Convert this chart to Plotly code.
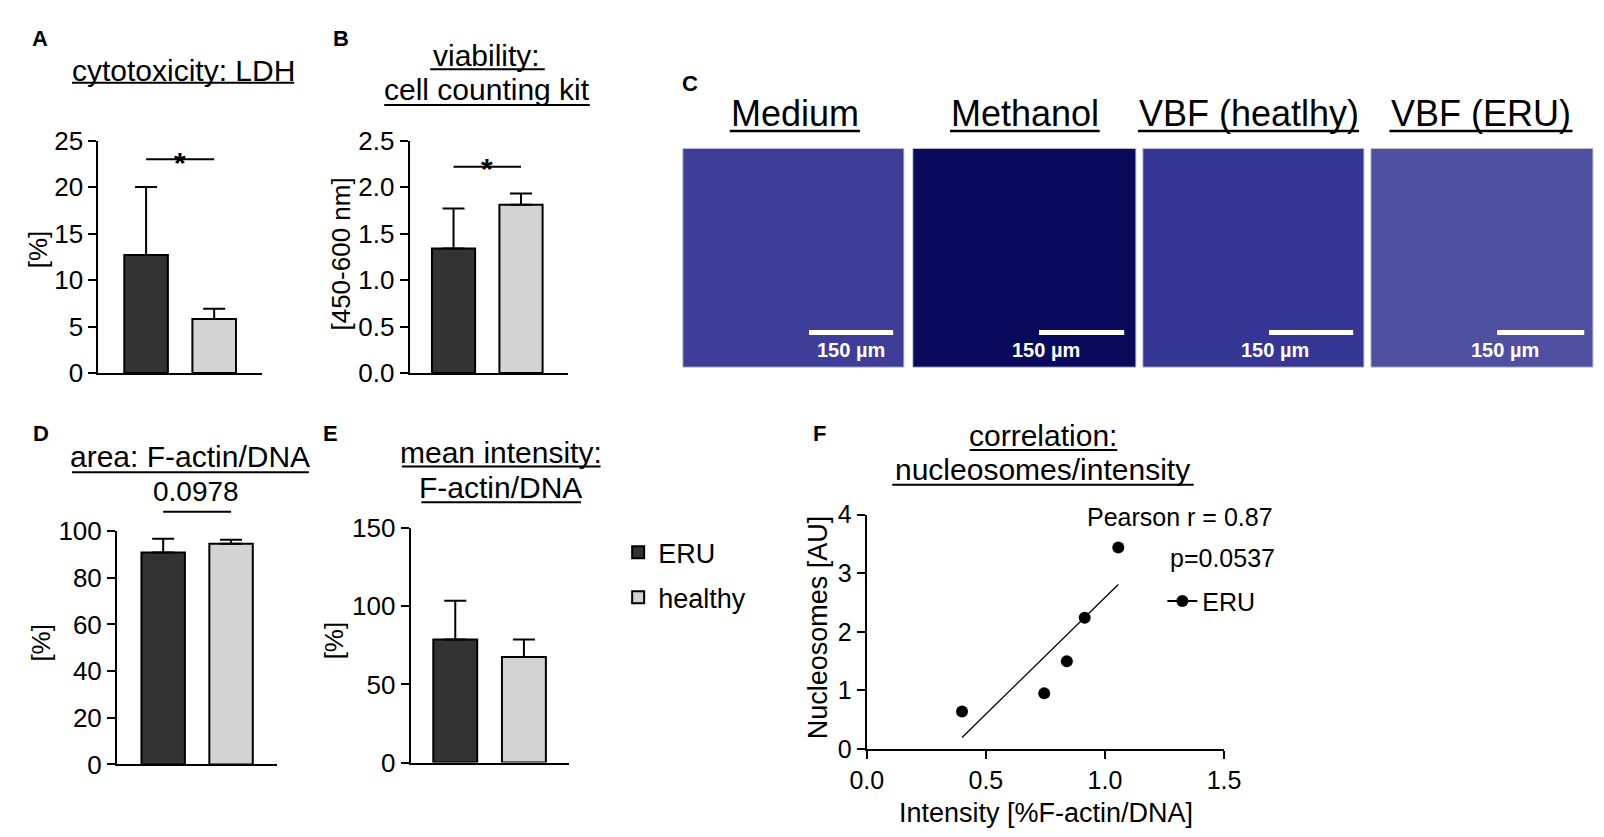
import numpy as np
import plotly.graph_objects as go

# ---------- data ----------
groups = ["ERU", "healthy"]

ldh_mean = [12.7, 5.8]          # A: cytotoxicity LDH [%]
ldh_sd = [7.3, 1.1]

cck_mean = [1.34, 1.81]         # B: viability [450-600 nm]
cck_sd = [0.43, 0.12]

area_mean = [90.8, 94.6]        # D: area F-actin/DNA [%]
area_sd = [5.9, 1.7]

int_mean = [78.8, 67.5]         # E: mean intensity F-actin/DNA [%]
int_sd = [24.8, 11.3]

# F: correlation nucleosomes vs intensity (ERU)
corr_intensity = [0.40, 0.745, 0.84, 0.915, 1.056]
corr_nucleosomes = [0.64, 0.95, 1.50, 2.24, 3.44]

image_labels = ["Medium", "Methanol", "VBF (heatlhy)", "VBF (ERU)"]
scale_label = "150 µm"

# ---------- helpers (positions given in pixels of the 1604x837 page) ----------
W, H = 1604, 837
FONT = "Arial, Liberation Sans, sans-serif"
BAR_COLORS = ["#333333", "#d3d3d3"]


def fx(p):
    return p / W


def fy(p):
    return 1 - p / H


fig = go.Figure()
shapes = []
annotations = []


def text(s, x, y, size, **kw):
    annotations.append(dict(text=s, x=fx(x), y=fy(y), xref="paper", yref="paper",
                            showarrow=False, font=dict(family=FONT, size=size, color="black"),
                            xanchor=kw.pop("xanchor", "center"), yanchor=kw.pop("yanchor", "middle"),
                            **kw))


def hline(x0, x1, y, width=2, color="black"):
    shapes.append(dict(type="line", xref="paper", yref="paper",
                       x0=fx(x0), x1=fx(x1), y0=fy(y), y1=fy(y),
                       line=dict(color=color, width=width)))


def bar_axes(n, xdom, ydom, xrange, yrange, dtick):
    xa = dict(domain=[fx(xdom[0]), fx(xdom[1])], range=xrange, showticklabels=False,
              ticks="", showline=True, linecolor="black", linewidth=2, showgrid=False,
              zeroline=False, anchor="y%s" % n, type="category", fixedrange=True)
    ya = dict(domain=[fy(ydom[0]), fy(ydom[1])], range=yrange, dtick=dtick, ticks="outside",
              ticklen=8, tickwidth=2, tickcolor="black", showline=True, linecolor="black",
              linewidth=2, showgrid=False, zeroline=False, anchor="x%s" % n,
              tickfont=dict(family=FONT, size=26, color="black"))
    return xa, ya


def add_bars(n, means, sds, legend=False):
    ax = "" if n == 1 else str(n)
    for i, g in enumerate(groups):
        fig.add_trace(go.Bar(
            x=[g], y=[means[i]], name=g, width=0.64,
            marker=dict(color=BAR_COLORS[i], line=dict(color="black", width=2)),
            error_y=dict(type="data", symmetric=False, array=[sds[i]], arrayminus=[0],
                         color="black", thickness=2, width=11),
            xaxis="x" + ax, yaxis="y" + ax, showlegend=legend, legendgroup=g))


# ---------- A: cytotoxicity ----------
add_bars(1, ldh_mean, ldh_sd, legend=True)
xa1, ya1 = bar_axes("", (75, 242), (363, 122), [-0.70, 1.70], [0, 25], 5)
shapes.append(dict(type="line", xref="x", yref="y", x0=0, x1=1, y0=23.0, y1=23.0,
                   line=dict(color="black", width=2)))
annotations.append(dict(text="<b>*</b>", x=0.5, y=fy(126), xref="x", yref="paper",
                        showarrow=False, font=dict(family=FONT, size=30, color="black")))
text("cytotoxicity: LDH", 162, 49, 30)
hline(48, 275, 62)
text("[%]", 13, 235, 26, textangle=-90)
text("<b>A</b>", 15, 16, 22)

# ---------- B: viability ----------
add_bars(2, cck_mean, cck_sd)
xa2, ya2 = bar_axes(2, (393, 555), (363, 122), [-0.65, 1.70], [0, 2.5], 0.5)
ya2["tickformat"] = ".1f"
shapes.append(dict(type="line", xref="x2", yref="y2", x0=0, x1=1, y0=2.22, y1=2.22,
                   line=dict(color="black", width=2)))
annotations.append(dict(text="<b>*</b>", x=0.5, y=fy(132), xref="x2", yref="paper",
                        showarrow=False, font=dict(family=FONT, size=30, color="black")))
text("viability:", 472, 34, 30)
hline(414, 531, 48)
text("cell counting kit", 472, 69, 30)
hline(367, 577, 85)
text("[450-600 nm]", 323, 240, 26, textangle=-90)
text("<b>B</b>", 323, 16, 22)

# ---------- D: area ----------
add_bars(3, area_mean, area_sd)
xa3, ya3 = bar_axes(3, (94, 257), (769, 527), [-0.68, 1.67], [0, 100], 20)
shapes.append(dict(type="line", xref="x3", yref="paper", x0=0, x1=1, y0=fy(507), y1=fy(507),
                   line=dict(color="black", width=2)))
text("0.0978", 175, 486, 28)
text("area: F-actin/DNA", 169, 450, 30)
hline(48, 290, 466)
text("[%]", 16, 643, 26, textangle=-90)
text("<b>D</b>", 16, 426, 22)

# ---------- E: mean intensity ----------
add_bars(4, int_mean, int_sd)
xa4, ya4 = bar_axes(4, (394, 556), (767, 524), [-0.65, 1.66], [0, 150], 50)
text("mean intensity:", 486, 445, 30)
hline(385, 588, 460)
text("F-actin/DNA", 486, 482, 30)
hline(405, 568, 497)
text("[%]", 316, 640, 26, textangle=-90)
text("<b>E</b>", 312, 426, 22)

# ---------- C: microscopy panels (flat placeholders for the images) ----------
img_x = [(672, 898), (907, 1135), (1142, 1368), (1375, 1602)]
img_fill = ["rgb(62,62,152)", "rgb(10,10,92)", "rgb(54,54,148)", "rgb(80,80,160)"]
ul = [(720, 853), (945, 1098), (1137, 1363), (1394, 1581)]
bars = [(801, 887), (1036, 1123), (1271, 1357), (1504, 1593)]
for i, lab in enumerate(image_labels):
    x0, x1 = img_x[i]
    shapes.append(dict(type="rect", xref="paper", yref="paper", x0=fx(x0), x1=fx(x1),
                       y0=fy(357), y1=fy(130), fillcolor=img_fill[i],
                       line=dict(color="#cfcfcf", width=1), layer="below"))
    u0, u1 = ul[i]
    text(lab, (u0 + u1) / 2, 94, 36)
    hline(u0, u1, 112, width=2.5)
    b0, b1 = bars[i]
    hline(b0, b1, 321, width=5, color="white")
    annotations.append(dict(text="<b>%s</b>" % scale_label, x=fx((b0 + b1) / 2), y=fy(339),
                            xref="paper", yref="paper", showarrow=False,
                            font=dict(family=FONT, size=20, color="white")))
text("<b>C</b>", 679, 63, 22)

# ---------- F: correlation ----------
fig.add_trace(go.Scatter(x=corr_intensity, y=corr_nucleosomes, mode="markers",
                         marker=dict(color="black", size=12), xaxis="x5", yaxis="y5",
                         showlegend=False, name="ERU"))
slope, icpt = np.polyfit(corr_intensity, corr_nucleosomes, 1)
fit_x = [min(corr_intensity), max(corr_intensity)]
fig.add_trace(go.Scatter(x=fit_x, y=[slope * v + icpt for v in fit_x], mode="lines",
                         line=dict(color="black", width=1.3), xaxis="x5", yaxis="y5",
                         showlegend=False, hoverinfo="skip"))
# legend entry in GraphPad style (line + dot)
fig.add_trace(go.Scatter(x=[None], y=[None], mode="lines+markers", name="ERU",
                         marker=dict(color="black", size=12), line=dict(color="black", width=2),
                         xaxis="x5", yaxis="y5", legend="legend2"))
r = np.corrcoef(corr_intensity, corr_nucleosomes)[0, 1]
xa5 = dict(domain=[fx(860), fx(1225)], range=[0, 1.5], dtick=0.5, tickformat=".1f",
           ticks="outside", ticklen=8, tickwidth=2, tickcolor="black", showline=True,
           linecolor="black", linewidth=2, showgrid=False, zeroline=False, anchor="y5",
           tickfont=dict(family=FONT, size=25, color="black"))
ya5 = dict(domain=[fy(753), fy(510)], range=[0, 4], dtick=1, ticks="outside", ticklen=8,
           tickwidth=2, tickcolor="black", showline=True, linecolor="black", linewidth=2,
           showgrid=False, zeroline=False, anchor="x5",
           tickfont=dict(family=FONT, size=25, color="black"))
text("correlation:", 1040, 428, 30)
hline(965, 1116, 443)
text("nucleosomes/intensity", 1040, 463, 30)
hline(886, 1194, 479)
text("Pearson r = %.2f" % r, 1083, 512, 25, xanchor="left")
text("p=0.0537", 1168, 555, 25, xanchor="left")
text("Nucleosomes [AU]", 810, 627, 27, textangle=-90)
text("Intensity [%F-actin/DNA]", 1043, 819, 27)
text("<b>F</b>", 812, 426, 22)

fig.update_layout(
    width=W, height=H, margin=dict(l=0, r=0, t=0, b=0),
    paper_bgcolor="white", plot_bgcolor="white",
    xaxis=xa1, yaxis=ya1, xaxis2=xa2, yaxis2=ya2, xaxis3=xa3, yaxis3=ya3,
    xaxis4=xa4, yaxis4=ya4, xaxis5=xa5, yaxis5=ya5,
    barmode="overlay", shapes=shapes, annotations=annotations,
    legend=dict(x=fx(606), y=fy(524), xanchor="left", yanchor="top", traceorder="grouped",
                tracegroupgap=7, font=dict(family=FONT, size=27, color="black"),
                bgcolor="rgba(0,0,0,0)"),
    legend2=dict(x=fx(1162), y=fy(576), xanchor="left", yanchor="top",
                 font=dict(family=FONT, size=25, color="black"), bgcolor="rgba(0,0,0,0)"),
)

fig.write_html("out.html")
